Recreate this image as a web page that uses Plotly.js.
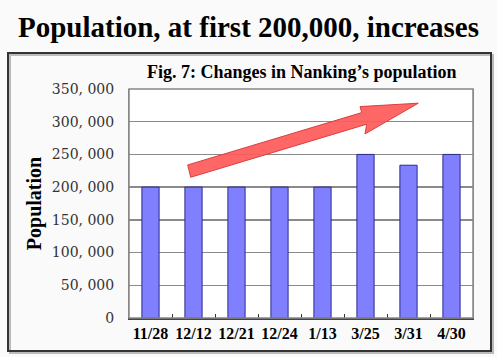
<!DOCTYPE html>
<html><head><meta charset="utf-8">
<script src="https://cdn.plot.ly/plotly-3.0.1.min.js"></script>
<style>html,body{margin:0;padding:0;background:#fafafa;}#chart{width:497px;height:357px;}</style>
</head><body><div id="chart"></div>
<script>
var categories = ["11/28","12/12","12/21","12/24","1/13","3/25","3/31","4/30"];
var population = [200000,200000,200000,200000,200000,250000,233500,250000];
var yTickVals = [0,50000,100000,150000,200000,250000,300000,350000];
var yTickText = ["0","50, 000","100, 000","150, 000","200, 000","250, 000","300, 000","350, 000"];

var serif = "Liberation Serif, DejaVu Serif, serif";
var L = 129, R = 473, T = 89, B = 318, W = 497, H = 357;
function px(x){ return (x - L) / (R - L); }
function py(y){ return (B - y) / (B - T); }

var arrowPath = "M 0.865 233900 L 4.912 313900 L 4.872 323100 L 6.228 328300 L 4.988 281300 L 5.028 296200 L 0.935 215100 Z";

var data = [{
  type: "bar", x: categories, y: population, width: 0.4,
  marker: {color: "#8080ff", line: {color: "#2a2a90", width: 1}},
  hoverinfo: "x+y"
}];

var layout = {
  width: W, height: H,
  margin: {l: L, r: W - R, t: T, b: H - B, pad: 0},
  paper_bgcolor: "#fafafa", plot_bgcolor: "#ffffff",
  showlegend: false, bargap: 0.6,
  title: {text: "<b>Population, at first 200,000, increases</b>", font: {family: serif, size: 29, color: "#000"},
          x: 0.5, xanchor: "center", y: 1 - 27/H, yanchor: "middle"},
  xaxis: {type: "category", tickson: "boundaries", ticks: "inside", ticklen: 4, tickcolor: "#333",
          showline: true, linecolor: "#444", linewidth: 1.5, mirror: false, showgrid: false,
          tickangle: 0, automargin: false,
          tickfont: {family: serif, size: 16, color: "#000", weight: "bold"}, fixedrange: true},
  yaxis: {range: [0, 350000], tickvals: yTickVals, ticktext: yTickText, ticks: "",
          showgrid: true, gridcolor: "#8a8a8a", gridwidth: 1.5, zeroline: false,
          showline: true, linecolor: "#888", linewidth: 1, mirror: true,
          tickfont: {family: "DejaVu Serif, serif", size: 14, color: "#333"}, ticklabelstandoff: 11,
          title: {text: "<b>Population</b>", font: {family: serif, size: 20, color: "#000"}, standoff: 4},
          fixedrange: true},
  shapes: [
    {type: "rect", xref: "paper", yref: "paper", x0: px(10), x1: px(493), y0: py(353), y1: py(55),
     line: {color: "#bbbbbb", width: 2}, fillcolor: "rgba(0,0,0,0)", layer: "below"},
    {type: "rect", xref: "paper", yref: "paper", x0: px(8), x1: px(491), y0: py(351), y1: py(53),
     line: {color: "#333333", width: 2}, fillcolor: "rgba(0,0,0,0)", layer: "below"},
    {type: "rect", xref: "paper", yref: "paper", x0: 0, x1: 1, y0: 0, y1: 1,
     line: {color: "#888", width: 1.5}, fillcolor: "rgba(0,0,0,0)"},
    {type: "path", xref: "x", yref: "y", path: arrowPath,
     fillcolor: "rgba(255,90,90,0.92)", line: {color: "#d84040", width: 1}}
  ],
  annotations: [
    {text: "<b>Fig. 7: Changes in Nanking’s population</b>", xref: "paper", yref: "paper",
     x: px(301), y: py(72), xanchor: "center", yanchor: "middle", showarrow: false,
     font: {family: serif, size: 18, color: "#000"}}
  ]
};
Plotly.newPlot("chart", data, layout, {displayModeBar: false, staticPlot: true});
</script></body></html>
